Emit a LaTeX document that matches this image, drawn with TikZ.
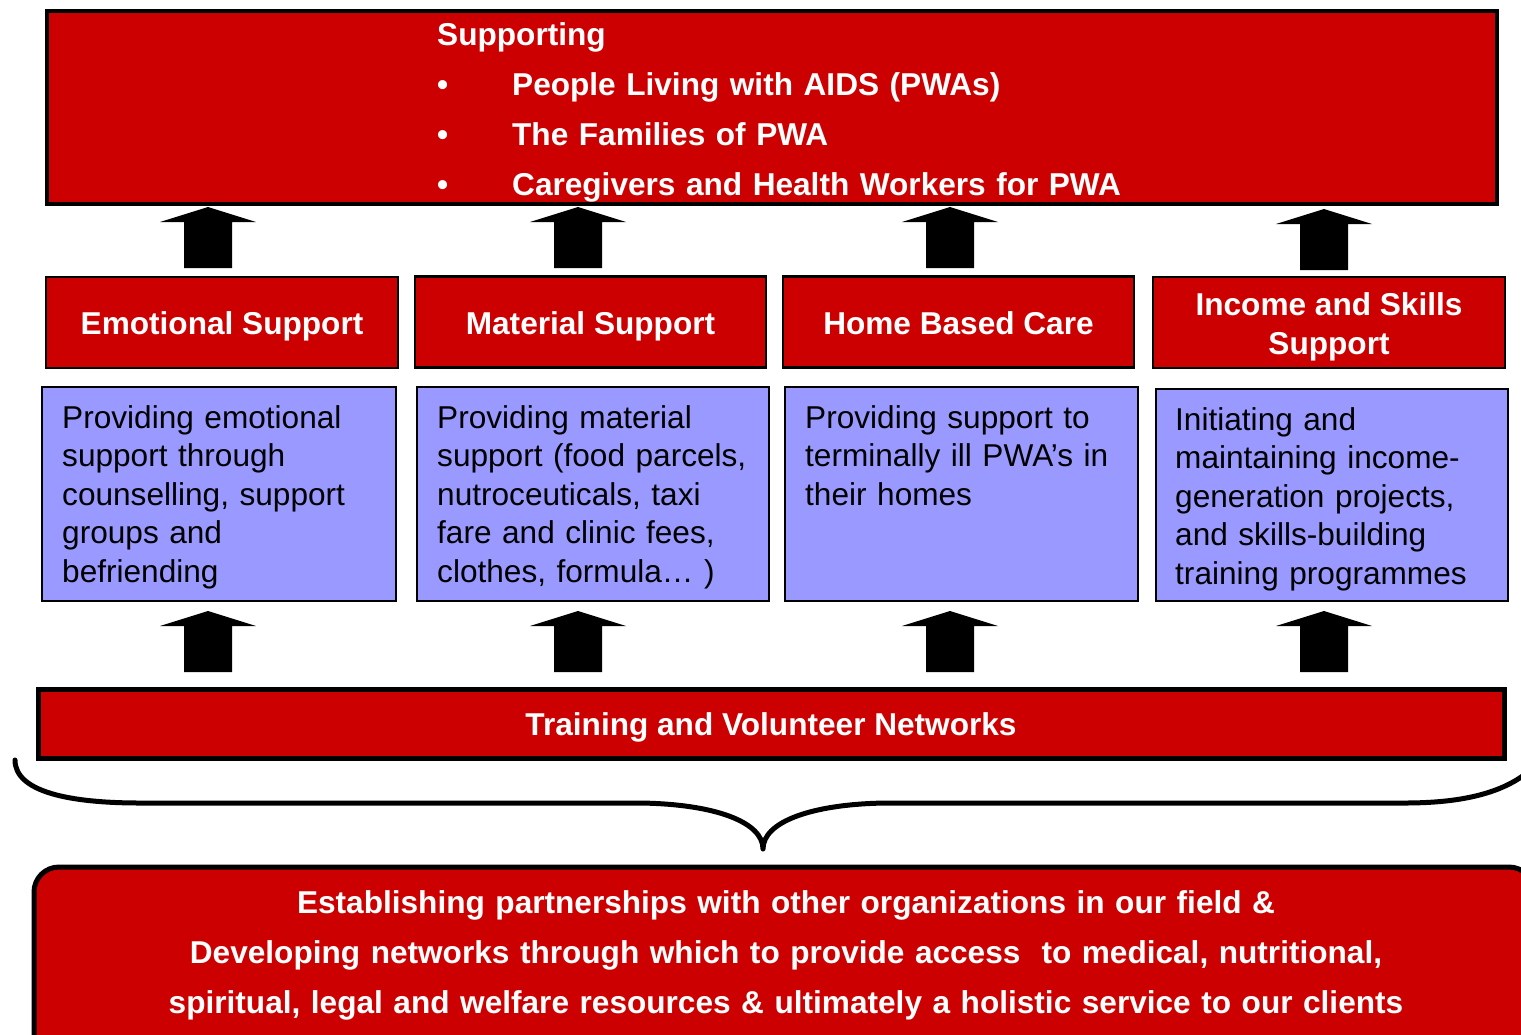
\documentclass[tikz,border=0pt]{standalone}
\usepackage{fontspec}
\setmainfont{Liberation Sans}
\definecolor{pwared}{HTML}{CC0000}
\definecolor{pwablue}{HTML}{9999FF}
\tikzset{
  redbox/.style={draw=black, fill=pwared, line width=2.5pt, text=white, align=center,
    inner sep=0pt, text height=24pt, text depth=0pt, font=\bfseries\fontsize{31.6}{39}\selectfont},
  bluebox/.style={draw=black, fill=pwablue, line width=2pt, anchor=north west, inner sep=0pt},
  bluetext/.style={anchor=base west, align=left, text width=340pt, inner sep=0pt,
    font=\fontsize{31.6}{38.5}\selectfont},
  whitetext/.style={text=white, inner sep=0pt, font=\bfseries\fontsize{31.6}{50}\selectfont},
}
\begin{document}
\begin{tikzpicture}[x=1pt,y=-1pt]
        \useasboundingbox (0,0) rectangle (1521,1034);
        %% Who we support
        \node[redbox, line width=4pt, minimum width=1450pt, minimum height=193pt] (pwa) at (772,107.5) {};
        \node[whitetext, anchor=base west, align=left, text width=800pt] (pwalist) at (437,45)
            {Supporting\\
             \makebox[75pt][l]{\textbullet}People Living with AIDS (PWAs)\\
             \makebox[75pt][l]{\textbullet}The Families of PWA\\
             \makebox[75pt][l]{\textbullet}Caregivers and Health Workers for PWA};
        %% Four kinds of support
        \node[redbox, minimum width=352pt, minimum height=91pt] (emo) at (222,322.5) {Emotional Support};
        \node[redbox, minimum width=351pt, minimum height=91pt] (mat) at (590.5,322) {Material Support};
        \node[redbox, minimum width=351pt, minimum height=91pt] (home) at (958.5,322) {Home Based Care};
        \node[redbox, text height=63pt, minimum width=352pt, minimum height=91pt] (inc) at (1329,322.5)
            {Income and Skills\\Support};
        %% What each one means
        \node[bluebox, minimum width=354pt, minimum height=214pt] (emobox) at (41,386) {};
        \node[bluebox, minimum width=352pt, minimum height=214pt] (matbox) at (416,386) {};
        \node[bluebox, minimum width=353pt, minimum height=214pt] (homebox) at (784,386) {};
        \node[bluebox, minimum width=352pt, minimum height=212pt] (incbox) at (1155,388) {};
        \node[bluetext] (emotext) at (62,428)
            {Providing emotional\\support through\\counselling, support\\groups and\\befriending};
        \node[bluetext] (mattext) at (437,428)
            {Providing material\\support (food parcels,\\nutroceuticals, taxi\\fare and clinic fees,\\clothes, formula… )};
        \node[bluetext] (hometext) at (805,428)
            {Providing support to\\terminally ill PWA’s in\\their homes};
        \node[bluetext] (inctext) at (1175,430)
            {Initiating and\\maintaining income-\\generation projects,\\and skills-building\\training programmes};
        %% Base
        \node[redbox, line width=5pt, minimum width=1466pt, minimum height=69pt] (train) at (771,723.5)
            {Training and Volunteer Networks};
        %% Block arrows
        \foreach \ax/\ay in {208/207,578/207,950/207,1324/209,208/611,578/611,950/611,1324/611}
            \fill ({\ax-24},{\ay+61}) -- ({\ax-24},{\ay+15}) -- ({\ax-48},{\ay+15}) -- (\ax,\ay)
                -- ({\ax+48},{\ay+15}) -- ({\ax+24},{\ay+15}) -- ({\ax+24},{\ay+61}) -- cycle;
        %% Brace
        \draw[line width=5pt, line cap=round, line join=round]
            (15,760) .. controls (15,792) and (70,803) .. (140,803) -- (640,803)
            .. controls (715,804) and (763,822) .. (763,849)
            .. controls (763,822) and (811,804) .. (886,803) -- (1405,803)
            .. controls (1470,803) and (1515,790) .. (1540,760);
        %% Partnerships
        \node[redbox, line width=5pt, rounded corners=25pt, anchor=north west,
            minimum width=1500pt, minimum height=220pt] (part) at (31.5,864.5) {};
        \node[whitetext, anchor=base, align=center, text width=1400pt] (parttext) at (786,913)
            {Establishing partnerships with other organizations in our field \&\\
             Developing networks through which to provide access \ to medical, nutritional,\\
             spiritual, legal and welfare resources \& ultimately a holistic service to our clients};
\end{tikzpicture}
\end{document}
